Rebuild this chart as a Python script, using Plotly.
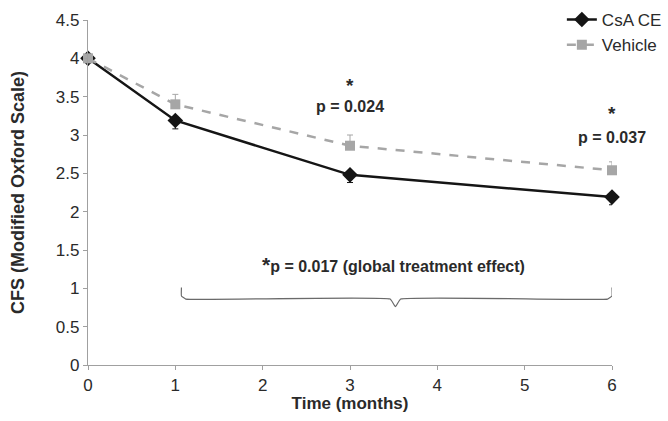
import plotly.graph_objects as go

months = [0, 1, 3, 6]
csa_ce = [4.0, 3.19, 2.48, 2.19]
csa_err_minus = [0.0, 0.11, 0.10, 0.10]
vehicle = [4.0, 3.40, 2.86, 2.54]
vehicle_err_plus = [0.0, 0.13, 0.14, 0.11]

x_ticks = [0, 1, 2, 3, 4, 5, 6]
y_ticks = [0, 0.5, 1, 1.5, 2, 2.5, 3, 3.5, 4, 4.5]
y_tick_labels = ["0", "0.5", "1", "1.5", "2", "2.5", "3", "3.5", "4", "4.5"]

# annotation data
p_labels = ["p = 0.024", "p = 0.037"]
p_x = [3, 6]
p_y = [3.37, 2.97]
star_y = [3.64, 3.28]
global_label = "p = 0.017 (global treatment effect)"
brace_x = [1.07, 1.07, 1.12, 3.46, 3.52, 3.58, 5.95, 6.0, 6.0]
brace_y = [1.01, 0.90, 0.86, 0.86, 0.76, 0.86, 0.86, 0.90, 1.01]

FONT = "Liberation Sans, Arial, sans-serif"
BLACK = "#151515"
GRAY = "#a6a6a6"
TXT = "#2a2a2a"

fig = go.Figure()

fig.add_trace(go.Scatter(
    x=months, y=csa_ce, name="CsA CE", mode="lines+markers", legendgroup="a",
    line=dict(color=BLACK, width=2.5),
    marker=dict(symbol="diamond", size=12, color=BLACK),
    error_y=dict(type="data", symmetric=False, array=[0]*4, arrayminus=csa_err_minus,
                 color=BLACK, thickness=1, width=3),
    cliponaxis=False,
))
fig.add_trace(go.Scatter(
    x=months, y=vehicle, name="Vehicle", mode="lines+markers", legendgroup="b",
    line=dict(color=GRAY, width=2.5, dash="dash"),
    marker=dict(symbol="square", size=10, color=GRAY),
    error_y=dict(type="data", symmetric=False, array=vehicle_err_plus, arrayminus=[0]*4,
                 color=GRAY, thickness=1, width=3),
    cliponaxis=False,
))

# brace
fig.add_trace(go.Scatter(
    x=brace_x, y=brace_y, mode="lines", showlegend=False, hoverinfo="skip",
    line=dict(color="#6a6a6a", width=1.2, shape="spline", smoothing=0.3),
    cliponaxis=False,
))

for px, py, sy, lab in zip(p_x, p_y, star_y, p_labels):
    fig.add_annotation(x=px, y=py, text="<b>" + lab + "</b>", showarrow=False,
                       font=dict(family=FONT, size=16, color=TXT))
    fig.add_annotation(x=px, y=sy, text="<b>*</b>", showarrow=False,
                       font=dict(family=FONT, size=19, color=TXT))

fig.add_annotation(x=3.5, y=1.31,
                   text="<b><span style='font-size:21px'>*</span>" + global_label + "</b>",
                   showarrow=False, font=dict(family=FONT, size=16, color=TXT))

fig.update_layout(
    width=668, height=421,
    margin=dict(l=88, r=0, t=2, b=56),
    paper_bgcolor="white", plot_bgcolor="white",
    font=dict(family=FONT, size=16, color=TXT),
    legend=dict(x=0.817, y=1.0, xanchor="left", yanchor="top",
                bgcolor="rgba(0,0,0,0)", font=dict(size=17, color=TXT),
                itemwidth=30, tracegroupgap=0),
    xaxis=dict(domain=[0, 524 / 580], range=[0, 6], tickvals=x_ticks,
               showgrid=False, zeroline=False, automargin=False,
               showline=True, linecolor="#a0a0a0", linewidth=1.2,
               ticks="outside", ticklen=4, tickcolor="#a0a0a0",
               tickfont=dict(size=17),
               title=dict(text="<b>Time (months)</b>", font=dict(size=17), standoff=2)),
    yaxis=dict(domain=[0, 345 / 363], range=[0, 4.5], tickvals=y_ticks, ticktext=y_tick_labels,
               showgrid=False, zeroline=False, automargin=False,
               showline=True, linecolor="#a0a0a0", linewidth=1.2,
               ticks="outside", ticklen=4, tickcolor="#a0a0a0",
               tickfont=dict(size=17),
               title=dict(text="<b>CFS (Modified Oxford Scale)</b>", font=dict(size=18), standoff=26)),
)

fig.write_html("out.html", config={"displayModeBar": False},
               post_script="document.body.style.margin='0';")
